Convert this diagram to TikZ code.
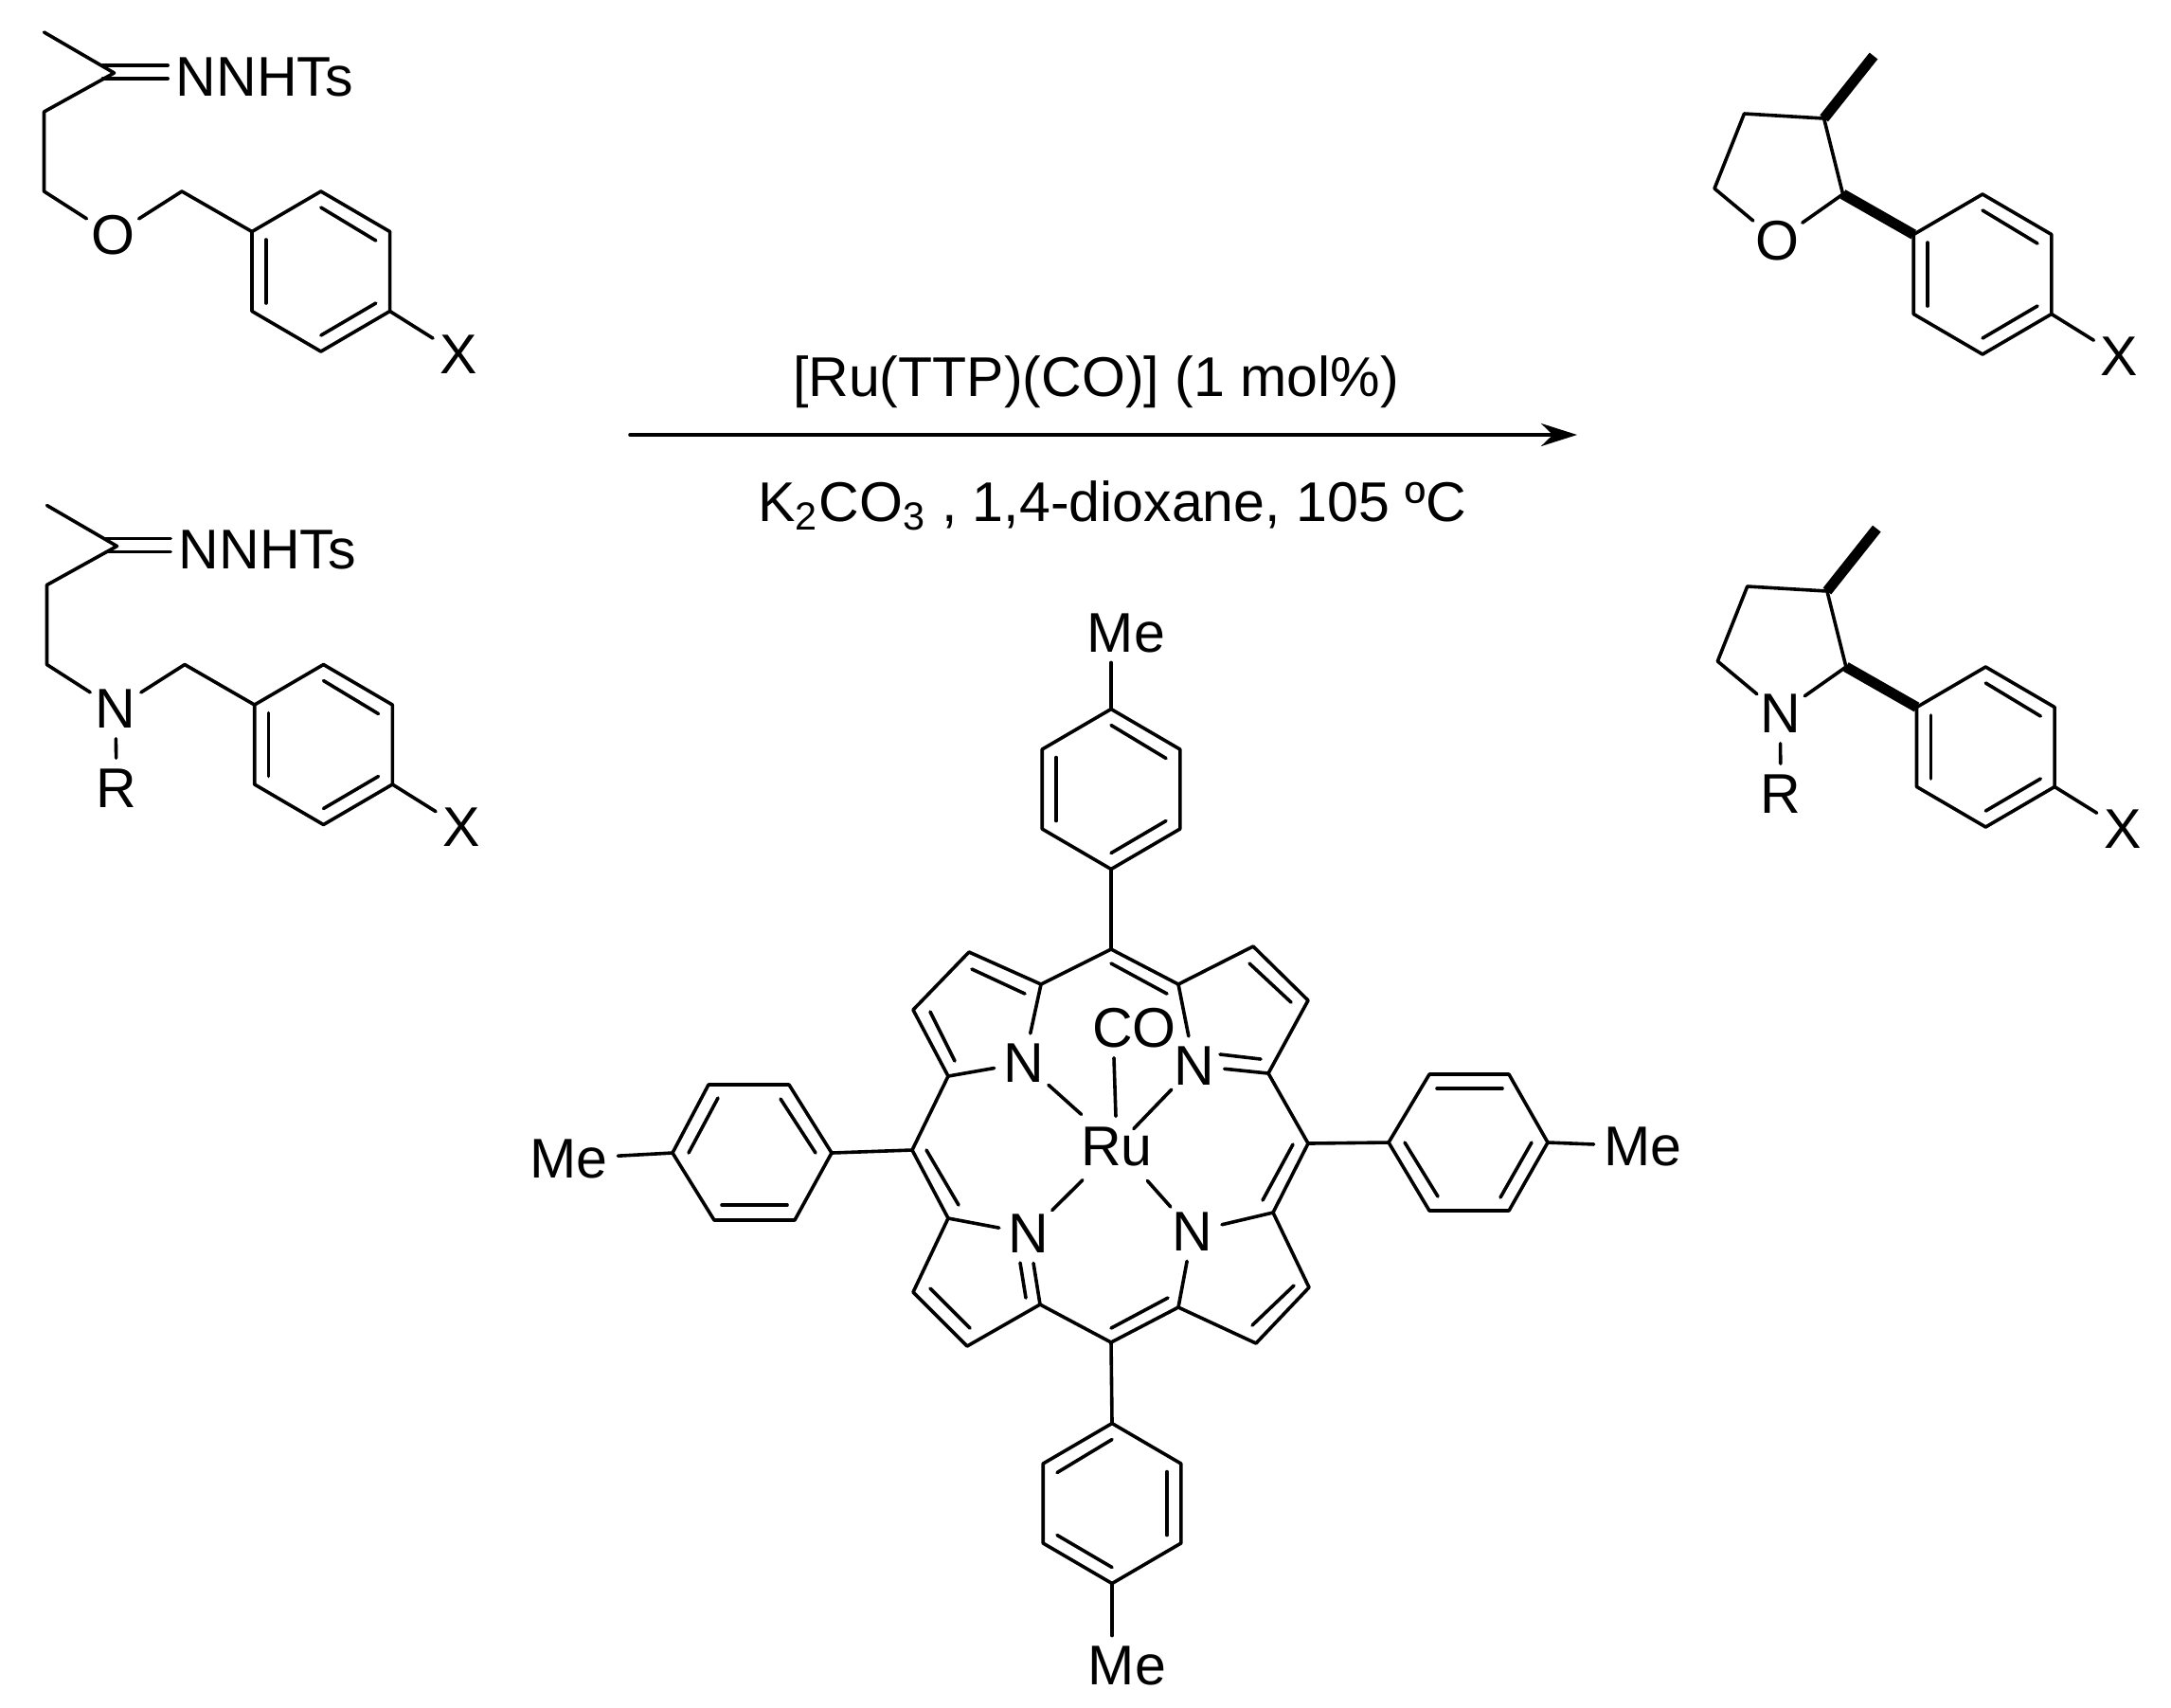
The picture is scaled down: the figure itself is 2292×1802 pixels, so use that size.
\documentclass[tikz,border=0pt]{standalone}
\usepackage{fontspec}
\setmainfont{Liberation Sans}
\usetikzlibrary{arrows.meta,calc}
\tikzset{
    atom/.style={circle, inner sep=0pt, minimum size=0.6cm},
    methyl/.style={rectangle, inner sep=0.09cm},
    hydrazone/.style={rectangle, inner sep=0pt, inner xsep=0.07cm},
    boldbond/.style={line width=0.11cm, line cap=butt}
}
\begin{document}
\begin{tikzpicture}[line cap=round, line join=round, x=0.01cm, y=-0.01cm, line width=0.036cm,
        font=\fontsize{16.8}{20}\selectfont]
    \useasboundingbox (0,0) rectangle (2292,1802);
    % benzene rings
    \foreach \n/\cx/\cy/\sg in {a/338.8/286.5/1, b/341.5/786/1, c/2093/289.5/1, d/2096.3/788.5/1, t/1173/833/1, u/1174/1587/-1} {
        \coordinate (\n1) at (\cx,\cy-84.5);
        \coordinate (\n2) at (\cx+72.8,\cy-42);
        \coordinate (\n3) at (\cx+72.8,\cy+42);
        \coordinate (\n4) at (\cx,\cy+84.5);
        \coordinate (\n5) at (\cx-72.8,\cy+42);
        \coordinate (\n6) at (\cx-72.8,\cy-42);
        \draw (\n1) -- (\n2) -- (\n3) -- (\n4) -- (\n5) -- (\n6) -- cycle;
        \draw (\cx,\cy-67.5) -- (\cx+\sg*58,\cy-32.5);
        \draw (\cx-\sg*58,\cy-33.5) -- (\cx-\sg*58,\cy+33.5);
        \draw (\cx,\cy+67.5) -- (\cx+\sg*58,\cy+33.5);
    }
    % starting materials
    \foreach \n/\dx/\dy/\het in {a/0/0/O, b/3/499.5/N} {
        \begin{scope}[shift={(\dx,\dy)}]
            \coordinate (\n-me) at (46.5,34);
            \coordinate (\n-tip) at (120.5,77);
            \coordinate (\n-c1) at (46.5,118);
            \coordinate (\n-c2) at (46.5,202);
            \coordinate (\n-c3) at (192,202);
            \coordinate (\n-up) at (108.5,69);
            \coordinate (\n-lo) at (108.5,83);
            \node[atom] (\n-het) at (119,248.5) {\het};
            \node[atom] (\n-x) at (484,374) {X};
            \node[hydrazone] (\n-ts) at (279.5,81) {NNHTs};
        \end{scope}
        \draw (\n-me) -- (\n-tip) -- (\n-c1) -- (\n-c2) -- (\n-het) -- (\n-c3) -- (\n6);
        \draw (\n-up) -- (\n-up -| \n-ts.west);
        \draw (\n-lo) -- (\n-lo -| \n-ts.west);
        \draw (\n3) -- (\n-x);
    }
    % products
    \foreach \n/\dx/\dy/\het in {c/0/0/O, d/3.3/499/N} {
        \begin{scope}[shift={(\dx,\dy)}]
            \coordinate (\n-c1) at (1841.4,120);
            \coordinate (\n-c2) at (1925.6,125);
            \coordinate (\n-c3) at (1945.6,205);
            \coordinate (\n-c4) at (1810,199);
            \coordinate (\n-me) at (1978,59);
            \node[atom] (\n-het) at (1876,254) {\het};
            \node[atom] (\n-x) at (2237.4,376) {X};
        \end{scope}
        \draw (\n-het) -- (\n-c4) -- (\n-c1) -- (\n-c2) -- (\n-c3) -- (\n-het);
        \draw[boldbond] (\n-c2) -- (\n-me);
        \draw[boldbond] (\n-c3) -- (\n6);
        \draw (\n3) -- (\n-x);
    }
    \node[atom] (b-r) at (123,832) {R};
    \node[atom] (d-r) at (1880,838) {R};
    \draw (b-het) -- (b-r);
    \draw (d-het) -- (d-r);
    % reaction arrow
    \coordinate (arrow-a) at (665,459);
    \coordinate (arrow-b) at (1665,459);
    \draw[-{Stealth[length=0.38cm,width=0.24cm]}] (arrow-a) -- (arrow-b);
    \node[anchor=base, inner sep=0pt] (cat) at (1157,418) {[Ru(TTP)(CO)] (1 mol\%)};
    \node[anchor=base, inner sep=0pt] (cond) at (1174,550) {K\textsubscript{2}CO\textsubscript{3} , 1,4-dioxane, 105 ºC};
    % porphyrin
    \foreach \point/\x/\y in {m1/1173/1002, p1/1244/1039, q1/1323/999, q2/1381/1056, p2/1339/1133, m2/1381/1207,
            p3/1344/1280, q3/1382/1359, q4/1326/1418, p4/1244/1380, m3/1173/1417, p5/1098/1377, q5/1021/1421,
            q6/964/1364, p6/1001/1286, m4/963/1214, p7/1001/1136, q7/964/1066, q8/1023/1005, p8/1099/1039,
            l1/710/1217, l2/748/1145, l3/833/1145, l4/878/1217, l5/839/1288, l6/754/1288,
            r1/1466/1206, r2/1509/1134, r3/1593/1134, r4/1634/1206, r5/1593/1278, r6/1509/1278}
        \coordinate (\point) at (\x,\y);
    \draw (m1) -- (p1) -- (q1) -- (q2) -- (p2) -- (m2) -- (p3) -- (q3) -- (q4) -- (p4) -- (m3) -- (p5) -- (q5)
        -- (q6) -- (p6) -- (m4) -- (p7) -- (q7) -- (q8) -- (p8) -- cycle;
    \draw (l1) -- (l2) -- (l3) -- (l4) -- (l5) -- (l6) -- cycle;
    \draw (r1) -- (r2) -- (r3) -- (r4) -- (r5) -- (r6) -- cycle;
    \node[atom] (na) at (1081,1122) {N};
    \node[atom] (nb) at (1261,1125) {N};
    \node[atom] (nc) at (1259,1300) {N};
    \node[atom] (nd) at (1086,1302) {N};
    \node[atom] (ru) at (1179,1210) {Ru};
    \node[inner sep=0pt] (co) at (1197.5,1085) {CO};
    \node[methyl] (me-t) at (1189,668) {Me};
    \node[methyl] (me-u) at (1190,1758) {Me};
    \node[methyl] (me-l) at (600.5,1223) {Me};
    \node[methyl] (me-r) at (1734.5,1210) {Me};
    \foreach \a/\b in {p8/na, p7/na, p1/nb, p2/nb, p3/nc, p4/nc, p5/nd, p6/nd, t4/m1, m3/u1, l4/m4, m2/r1, l1/me-l, r4/me-r}
        \draw (\a) -- (\b);
    \draw (t1) -- (t1 |- me-t.south);
    \draw (u4) -- (u4 |- me-u.north);
    \foreach \a/\s in {na/0.056cm, nb/-0.19cm, nc/0.04cm, nd/0.06cm}
        \draw[shorten <=0.03cm, shorten >=\s] (\a) -- (ru);
    \draw[shorten >=-0.13cm] ([xshift=-0.215cm,yshift=-0.09cm]co.south) -- (ru);
    % inner strokes of the double bonds
    \foreach \p/\q in {{1026,1023}/{1082,1049}, {982,1068}/{1008,1120}, {1173,1017}/{1232,1049}, {1319,1017}/{1363,1058},
            {1288,1113}/{1331,1118}, {1365,1208}/{1333,1267}, {1322,1399}/{1366,1357}, {1173,1402}/{1233,1370},
            {1077,1333}/{1083,1370}, {982,1360}/{1024,1402}, {978,1214}/{1012,1272},
            {727,1217}/{758,1159}, {824,1160}/{861,1217}, {762,1272}/{831,1272},
            {1517,1149}/{1586,1149}, {1483,1206}/{1518,1263}, {1617,1206}/{1584,1264}}
        \draw (\p) -- (\q);
\end{tikzpicture}
\end{document}
